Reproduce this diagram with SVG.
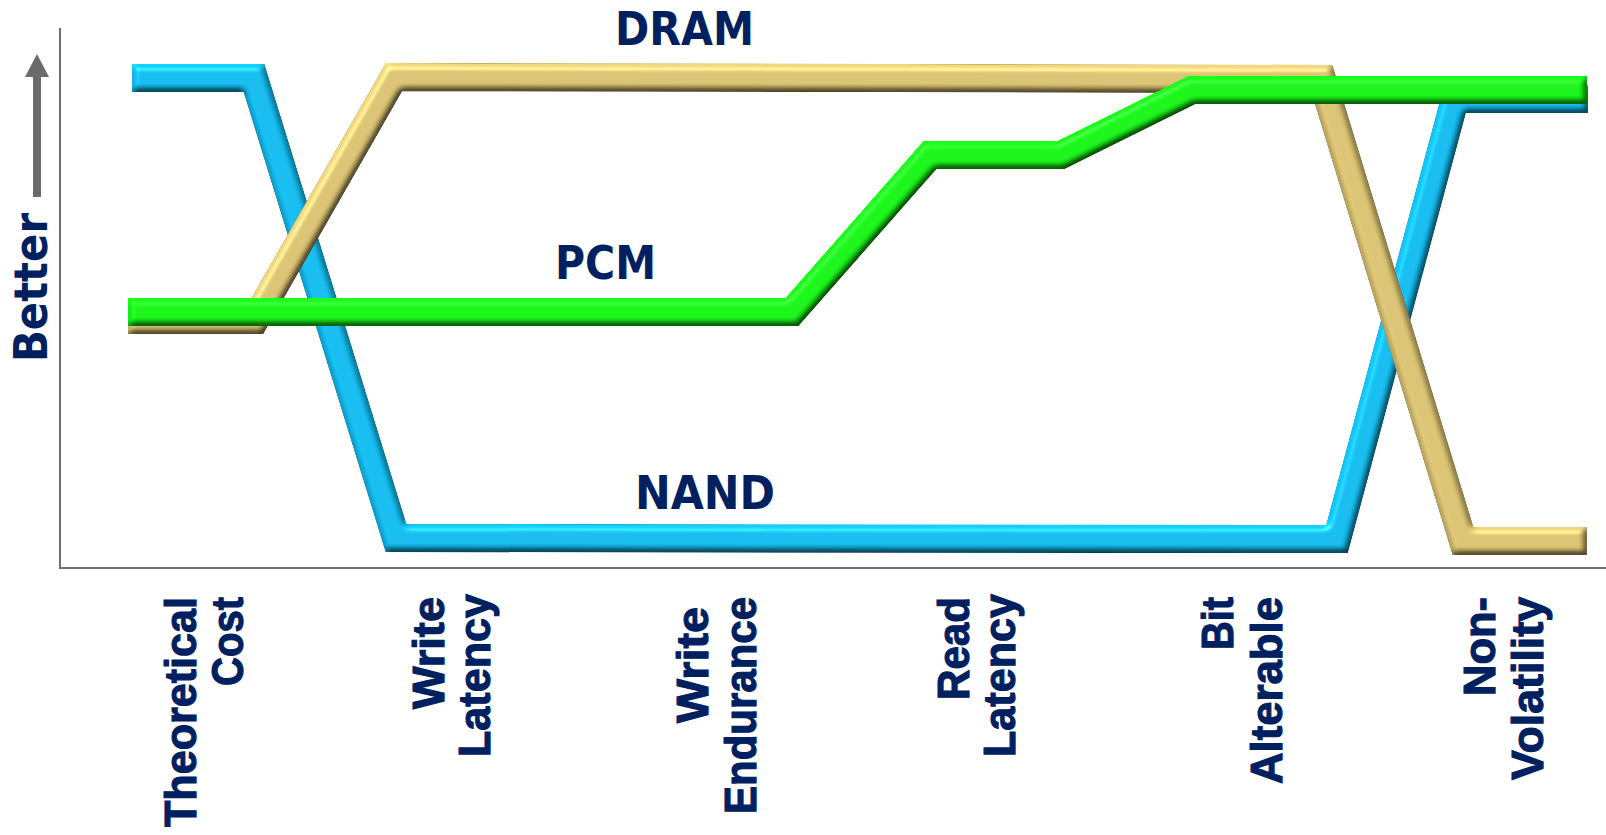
<svg xmlns="http://www.w3.org/2000/svg" width="1606" height="835" viewBox="0 0 1606 835">
  <defs>
    <style>
      .axis { stroke: #707070; stroke-width: 2; fill: none; }
      .series { fill: none; stroke-width: 28; stroke-linejoin: miter; stroke-miterlimit: 10; stroke-linecap: butt; filter: url(#bevel); }
      .nand { stroke: #12b6e8; }
      .dram { stroke: #d4bd6e; }
      .pcm { stroke: #16ee16; }
      .name { font-family: "DejaVu Sans", Verdana, sans-serif; font-weight: bold; font-size: 47px; fill: #002060; }
      .cat { font-family: "Liberation Sans", Arial, sans-serif; font-weight: bold; font-size: 44px; fill: #002060; stroke: #002060; stroke-width: 1.1px; }
    </style>
    <!-- raised bevel: blurred alpha used as a height map, lit from the upper left -->
    <filter id="bevel" x="-5%" y="-10%" width="110%" height="120%" color-interpolation-filters="sRGB">
      <feGaussianBlur in="SourceAlpha" stdDeviation="3" result="height"/>
      <feDiffuseLighting in="height" surfaceScale="5" diffuseConstant="1" lighting-color="#ffffff" result="diffuse">
        <feDistantLight azimuth="240" elevation="50"/>
      </feDiffuseLighting>
      <feSpecularLighting in="height" surfaceScale="5" specularConstant="0.6" specularExponent="30" lighting-color="#ffffff" result="spec">
        <feDistantLight azimuth="240" elevation="50"/>
      </feSpecularLighting>
      <feComposite in="spec" in2="SourceAlpha" operator="in" result="specIn"/>
      <feComposite in="SourceGraphic" in2="diffuse" operator="arithmetic" k1="0.85" k2="0.35" k3="0" k4="0" result="lit"/>
      <feComposite in="lit" in2="specIn" operator="arithmetic" k1="0" k2="1" k3="0.35" k4="0"/>
    </filter>
  </defs>

  <rect width="1606" height="835" fill="#ffffff"/>

  <!-- axes and the "better" arrow -->
  <g id="axes">
    <line class="axis" x1="60" y1="28" x2="60" y2="568"/>
    <line class="axis" x1="59" y1="568" x2="1606" y2="568"/>
    <rect x="33" y="76" width="8" height="121" fill="#6a6a6a"/>
    <polygon points="37,54 49,77 25,77" fill="#6a6a6a"/>
    <text class="name" transform="translate(47,362) rotate(-90)" font-size="46" textLength="149" lengthAdjust="spacingAndGlyphs">Better</text>
  </g>

  <!-- data series, back to front -->
  <g id="connectors">
    <g id="nand">
      <path class="series nand" d="M132,78 L254,78 L396,538 L1337,539 L1455,99 L1588,99"/>
    </g>
    <g id="dram">
      <path class="series dram" d="M128,320 L255,320 L394,77 L1322,79 L1463,541 L1587,541"/>
    </g>
    <g id="pcm">
      <path class="series pcm" d="M128,312 L792,312 L930,155 L1061,155 L1192,90 L1587,90"/>
    </g>
  </g>

  <!-- series names -->
  <g id="series-labels">
    <text class="name" x="615" y="45" textLength="139" lengthAdjust="spacingAndGlyphs">DRAM</text>
    <text class="name" x="555" y="279" textLength="101" lengthAdjust="spacingAndGlyphs">PCM</text>
    <text class="name" x="635" y="509" textLength="140" lengthAdjust="spacingAndGlyphs">NAND</text>
  </g>

  <!-- category labels, set vertically -->
  <g id="categories">
    <g id="cat-cost">
      <text class="cat" transform="translate(196,827) rotate(-90)" textLength="230" lengthAdjust="spacingAndGlyphs">Theoretical</text>
      <text class="cat" transform="translate(243,686) rotate(-90)" textLength="89" lengthAdjust="spacingAndGlyphs">Cost</text>
    </g>
    <g id="cat-write-latency">
      <text class="cat" transform="translate(444,709) rotate(-90)" textLength="112" lengthAdjust="spacingAndGlyphs">Write</text>
      <text class="cat" transform="translate(490,757) rotate(-90)" textLength="163" lengthAdjust="spacingAndGlyphs">Latency</text>
    </g>
    <g id="cat-endurance">
      <text class="cat" transform="translate(708,723) rotate(-90)" textLength="116" lengthAdjust="spacingAndGlyphs">Write</text>
      <text class="cat" transform="translate(756,814) rotate(-90)" textLength="217" lengthAdjust="spacingAndGlyphs">Endurance</text>
    </g>
    <g id="cat-read-latency">
      <text class="cat" transform="translate(969,700) rotate(-90)" textLength="103" lengthAdjust="spacingAndGlyphs">Read</text>
      <text class="cat" transform="translate(1015,757) rotate(-90)" textLength="163" lengthAdjust="spacingAndGlyphs">Latency</text>
    </g>
    <g id="cat-bit">
      <text class="cat" transform="translate(1233,650) rotate(-90)" textLength="53" lengthAdjust="spacingAndGlyphs">Bit</text>
      <text class="cat" transform="translate(1282,784) rotate(-90)" textLength="187" lengthAdjust="spacingAndGlyphs">Alterable</text>
    </g>
    <g id="cat-nv">
      <text class="cat" transform="translate(1495,696) rotate(-90)" textLength="99" lengthAdjust="spacingAndGlyphs">Non-</text>
      <text class="cat" transform="translate(1543,780) rotate(-90)" textLength="183" lengthAdjust="spacingAndGlyphs">Volatility</text>
    </g>
  </g>
</svg>
